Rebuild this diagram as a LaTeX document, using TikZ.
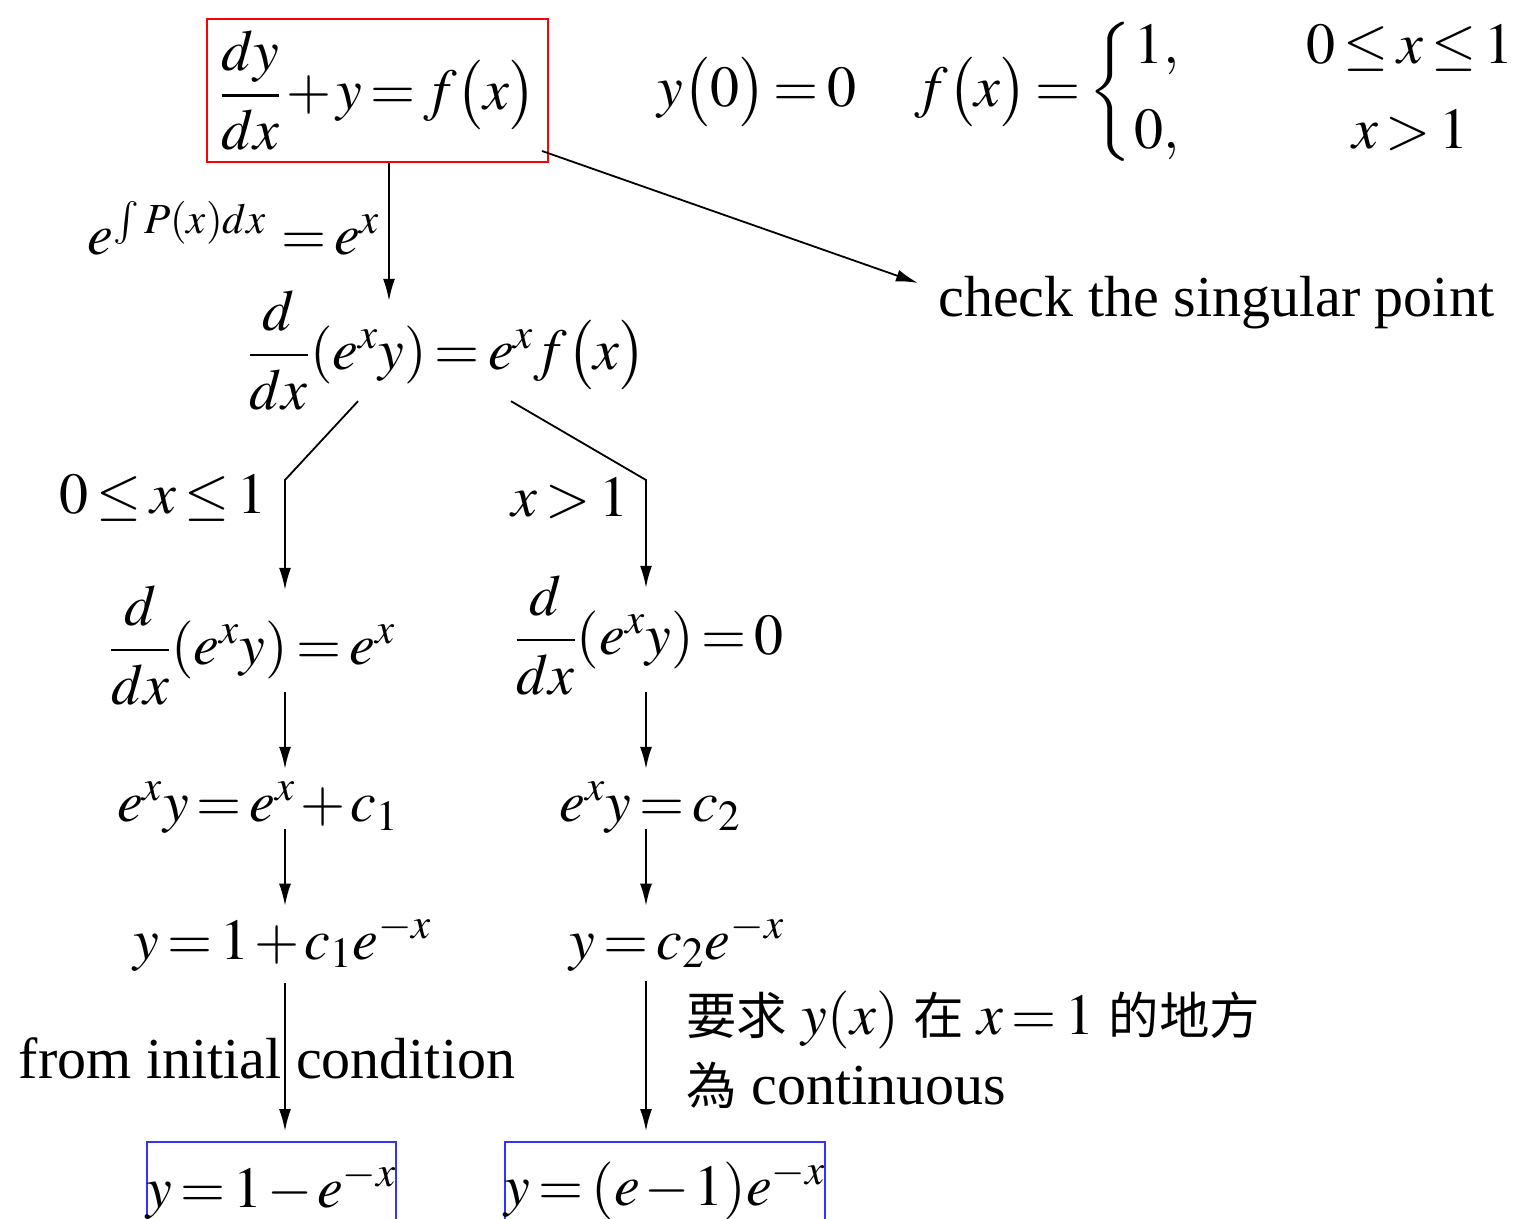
\documentclass[tikz,border=0pt]{standalone}
\usepackage{amsmath}
\usepackage{mathptmx}
\usepackage{fontspec}
\setmainfont{Liberation Serif}
\newfontfamily\cjk[Scale=0.87]{Noto Sans CJK TC}
\usetikzlibrary{arrows.meta,positioning,shapes}

\begin{document}
\thickmuskip=2.5mu\relax
\medmuskip=1.5mu\relax
\begin{tikzpicture}[x=0.5pt,y=-0.5pt,
  every node/.style={font=\fontsize{29}{35}\selectfont,inner sep=0pt},
  arr/.style={-{Latex[length=11pt,width=6pt]},line width=0.9pt},
  redbox/.style={draw=red,line width=1pt,minimum width=170.5pt,minimum height=71.5pt},
  bluebox/.style={draw=blue!80,line width=1pt,minimum height=48pt}]
\useasboundingbox (0,0) rectangle (1515,1219);
\node[redbox] (ode) at (377.5,90.5) {$\dfrac{dy}{dx}+y=f\bigl(x\bigr)$};
\node (init) at (757,92) {$y\bigl(0\bigr)=0$};
\node (fdef) at (1214,92) {$f\bigl(x\bigr)=\left\{\vphantom{\begin{array}{c}1\\0\end{array}}\right.\!\begin{array}{@{}l@{\hspace{2.2em}}c@{}}1, & 0\le x\le 1\\[0.25em] 0, & x>1\end{array}$};
\node (mu) at (234,228) {$e^{\int P(x)dx}\,=e^{x}$};
\node (exact) at (447,350) {$\dfrac{d}{dx}(e^{x}y)=e^{x}f\bigl(x\bigr)$};
\node[anchor=west] (chk) at (938,303) {check the singular point};
\node (condL) at (163,498) {$0\le x\le 1$};
\node (condR) at (570,498) {$x>1$};
\node (l1) at (252,645) {$\dfrac{d}{dx}(e^{x}y)=e^{x}$};
\node (r1) at (649,635) {$\dfrac{d}{dx}(e^{x}y)=0$};
\node (l2) at (258,808) {$e^{x}y=e^{x}+c_{1}$};
\node (r2) at (650,808) {$e^{x}y=c_{2}$};
\node (l3) at (283,942) {$y=1+c_{1}e^{-x}$};
\node (r3) at (677,942) {$y=c_{2}e^{-x}$};
\node (ic) at (267,1058) {from initial condition};
\node[anchor=west,align=left] (cont) at (686,1050) {{\cjk 要求} $y(x)$ {\cjk 在} $x=1$ {\cjk 的地方}\\{\cjk 為} continuous};
\node[bluebox,minimum width=119.5pt] (solL) at (271.5,1190) {$y=1-e^{-x}$};
\node[bluebox,minimum width=153pt] (solR) at (665,1190) {$y=(e-1)e^{-x}$};
% columns of the arrows
\coordinate (c0) at (389,0);
\coordinate (cL) at (285,0);
\coordinate (cR) at (646,0);
\coordinate (kL) at (285,480);
\coordinate (kR) at (646,480);
\draw[arr,shorten >=-5.5pt] (ode.south -| c0) -- (exact.north -| c0);
\draw[arr] ([xshift=-3.5pt,yshift=6pt]ode.south east) -- ([xshift=-10pt,yshift=10pt]chk.west);
\draw[arr,shorten >=-2.5pt] ([xshift=-44.5pt,yshift=4.5pt]exact.south) -- (kL) -- (l1.north -| kL);
\draw[arr,shorten >=-6.5pt] ([xshift=32pt,yshift=4.5pt]exact.south) -- (kR) -- (r1.north -| kR);
\draw[arr,shorten <=-6.5pt,shorten >=6.5pt] (l1.south -| cL) -- (l2.north -| cL);
\draw[arr,shorten <=-1.5pt,shorten >=6.5pt] (r1.south -| cR) -- (r2.north -| cR);
\draw[arr,shorten <=-2.5pt,shorten >=3.5pt] (l2.south -| cL) -- (l3.north -| cL);
\draw[arr,shorten <=-2.5pt,shorten >=3.5pt] (r2.south -| cR) -- (r3.north -| cR);
\draw[arr,shorten <=6pt,shorten >=5pt] (l3.south -| cL) -- (solL.north -| cL);
\draw[arr,shorten <=5pt,shorten >=5pt] (r3.south -| cR) -- (solR.north -| cR);
\end{tikzpicture}
\end{document}
